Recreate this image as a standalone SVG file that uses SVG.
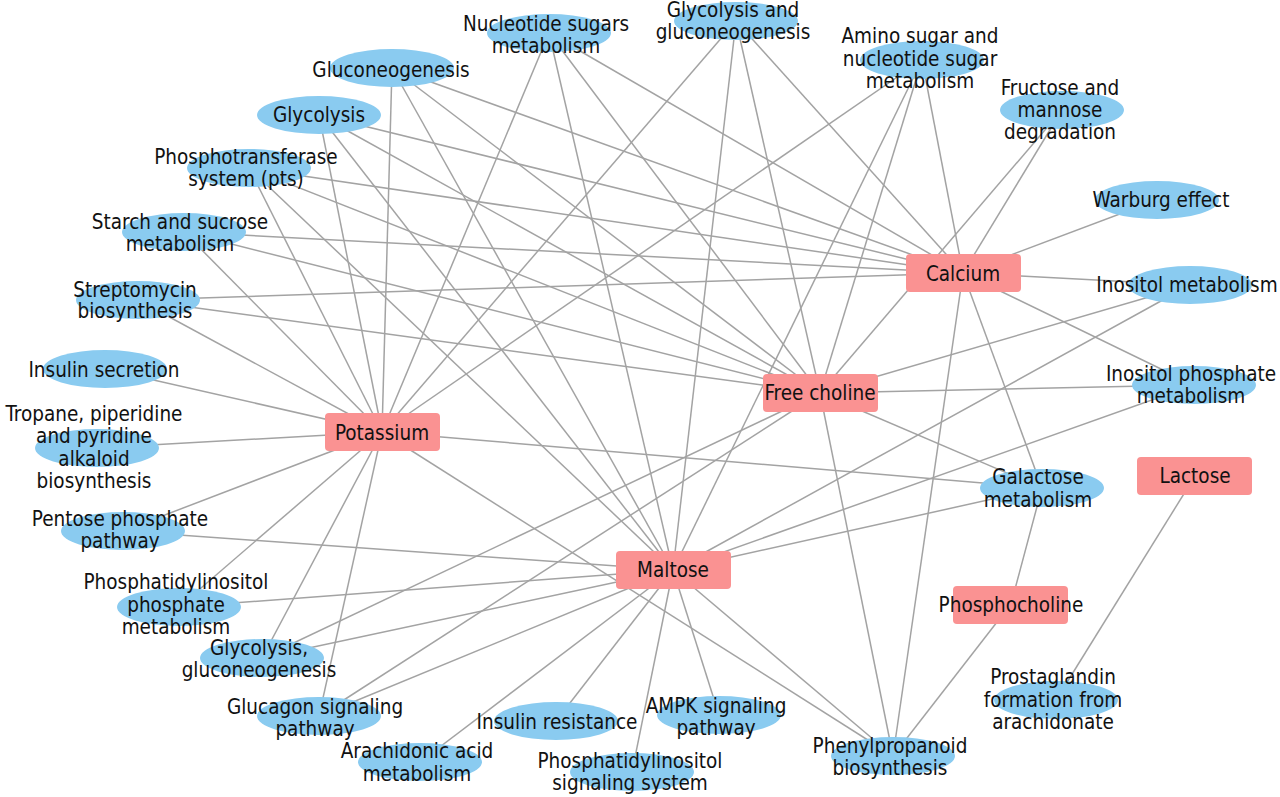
<svg xmlns="http://www.w3.org/2000/svg" width="1280" height="797" viewBox="0 0 1280 797">
<style>
.e line{stroke:#a3a3a3;stroke-width:1.5}
.leaf ellipse{fill:#8acbf0}
.hub rect{fill:#fa9292}
text{font-family:"DejaVu Sans Condensed","DejaVu Sans",sans-serif;font-size:20.5px;fill:#111;text-anchor:middle}
</style>
<rect width="1280" height="797" fill="#fff"/>
<g id="edges" class="e">
<!-- Calcium 963,273 -->
<line x1="963" y1="273" x2="922" y2="60"/>
<line x1="963" y1="273" x2="736" y2="21"/>
<line x1="963" y1="273" x2="549" y2="33"/>
<line x1="963" y1="273" x2="392" y2="68"/>
<line x1="963" y1="273" x2="319" y2="115"/>
<line x1="963" y1="273" x2="249" y2="168"/>
<line x1="963" y1="273" x2="184" y2="232"/>
<line x1="963" y1="273" x2="138" y2="300"/>
<line x1="963" y1="273" x2="893" y2="756"/>
<line x1="963" y1="273" x2="1042" y2="488"/>
<line x1="963" y1="273" x2="1190" y2="285"/>
<line x1="963" y1="273" x2="1194" y2="385"/>
<line x1="963" y1="273" x2="1157" y2="200"/>
<line x1="963" y1="273" x2="1062" y2="110"/>
<!-- Free choline 820,393 -->
<line x1="820" y1="393" x2="922" y2="60"/>
<line x1="820" y1="393" x2="736" y2="21"/>
<line x1="820" y1="393" x2="549" y2="33"/>
<line x1="820" y1="393" x2="392" y2="68"/>
<line x1="820" y1="393" x2="319" y2="115"/>
<line x1="820" y1="393" x2="249" y2="168"/>
<line x1="820" y1="393" x2="184" y2="232"/>
<line x1="820" y1="393" x2="138" y2="300"/>
<line x1="820" y1="393" x2="1062" y2="110"/>
<line x1="820" y1="393" x2="1190" y2="285"/>
<line x1="820" y1="393" x2="1194" y2="385"/>
<line x1="820" y1="393" x2="1042" y2="488"/>
<line x1="820" y1="393" x2="893" y2="756"/>
<line x1="820" y1="393" x2="262" y2="658"/>
<line x1="820" y1="393" x2="319" y2="716"/>
<!-- Maltose 673,570 -->
<line x1="673" y1="570" x2="922" y2="60"/>
<line x1="673" y1="570" x2="736" y2="21"/>
<line x1="673" y1="570" x2="549" y2="33"/>
<line x1="673" y1="570" x2="392" y2="68"/>
<line x1="673" y1="570" x2="319" y2="115"/>
<line x1="673" y1="570" x2="249" y2="168"/>
<line x1="673" y1="570" x2="123" y2="531"/>
<line x1="673" y1="570" x2="179" y2="607"/>
<line x1="673" y1="570" x2="262" y2="658"/>
<line x1="673" y1="570" x2="319" y2="716"/>
<line x1="673" y1="570" x2="420" y2="762"/>
<line x1="673" y1="570" x2="556" y2="721"/>
<line x1="673" y1="570" x2="632" y2="772"/>
<line x1="673" y1="570" x2="719" y2="715"/>
<line x1="673" y1="570" x2="893" y2="756"/>
<line x1="673" y1="570" x2="1190" y2="285"/>
<line x1="673" y1="570" x2="1194" y2="385"/>
<line x1="673" y1="570" x2="1042" y2="488"/>
<!-- Potassium 382,432 -->
<line x1="382" y1="432" x2="922" y2="60"/>
<line x1="382" y1="432" x2="736" y2="21"/>
<line x1="382" y1="432" x2="549" y2="33"/>
<line x1="382" y1="432" x2="392" y2="68"/>
<line x1="382" y1="432" x2="319" y2="115"/>
<line x1="382" y1="432" x2="249" y2="168"/>
<line x1="382" y1="432" x2="184" y2="232"/>
<line x1="382" y1="432" x2="138" y2="300"/>
<line x1="382" y1="432" x2="105" y2="369"/>
<line x1="382" y1="432" x2="97" y2="448"/>
<line x1="382" y1="432" x2="123" y2="531"/>
<line x1="382" y1="432" x2="179" y2="607"/>
<line x1="382" y1="432" x2="262" y2="658"/>
<line x1="382" y1="432" x2="319" y2="716"/>
<line x1="382" y1="432" x2="1042" y2="488"/>
<line x1="382" y1="432" x2="893" y2="756"/>
<!-- Phosphocholine, Lactose -->
<line x1="1011" y1="604" x2="1042" y2="488"/>
<line x1="1011" y1="604" x2="893" y2="756"/>
<line x1="1195" y1="476" x2="1056" y2="700"/>
</g>
<g id="n-nucleotide" class="leaf"><ellipse cx="549" cy="33" rx="62" ry="19"/><text x="546" y="31">Nucleotide sugars</text><text x="546" y="53">metabolism</text></g>
<g id="n-gg" class="leaf"><ellipse cx="736" cy="21" rx="62" ry="19"/><text x="733" y="17">Glycolysis and</text><text x="733" y="39">gluconeogenesis</text></g>
<g id="n-amino" class="leaf"><ellipse cx="922" cy="60" rx="62" ry="19"/><text x="920" y="43">Amino sugar and</text><text x="920" y="66">nucleotide sugar</text><text x="920" y="88">metabolism</text></g>
<g id="n-fructose" class="leaf"><ellipse cx="1062" cy="110" rx="62" ry="19"/><text x="1060" y="95">Fructose and</text><text x="1060" y="117">mannose</text><text x="1060" y="139">degradation</text></g>
<g id="n-warburg" class="leaf"><ellipse cx="1157" cy="200" rx="62" ry="19"/><text x="1161" y="207">Warburg effect</text></g>
<g id="n-inomet" class="leaf"><ellipse cx="1190" cy="285" rx="62" ry="19"/><text x="1187" y="292">Inositol metabolism</text></g>
<g id="n-inophos" class="leaf"><ellipse cx="1194" cy="385" rx="62" ry="19"/><text x="1191" y="381">Inositol phosphate</text><text x="1191" y="403">metabolism</text></g>
<g id="n-galactose" class="leaf"><ellipse cx="1042" cy="488" rx="62" ry="19"/><text x="1038" y="484">Galactose</text><text x="1038" y="507">metabolism</text></g>
<g id="n-prosta" class="leaf"><ellipse cx="1056" cy="700" rx="62" ry="19"/><text x="1053" y="684">Prostaglandin</text><text x="1053" y="707">formation from</text><text x="1053" y="729">arachidonate</text></g>
<g id="n-phenyl" class="leaf"><ellipse cx="893" cy="756" rx="62" ry="19"/><text x="890" y="753">Phenylpropanoid</text><text x="890" y="775">biosynthesis</text></g>
<g id="n-ampk" class="leaf"><ellipse cx="719" cy="715" rx="62" ry="19"/><text x="716" y="713">AMPK signaling</text><text x="716" y="735">pathway</text></g>
<g id="n-pis" class="leaf"><ellipse cx="632" cy="772" rx="62" ry="19"/><text x="630" y="768">Phosphatidylinositol</text><text x="630" y="790">signaling system</text></g>
<g id="n-insres" class="leaf"><ellipse cx="556" cy="721" rx="62" ry="19"/><text x="557" y="729">Insulin resistance</text></g>
<g id="n-arach" class="leaf"><ellipse cx="420" cy="762" rx="62" ry="19"/><text x="417" y="758">Arachidonic acid</text><text x="417" y="781">metabolism</text></g>
<g id="n-glucagon" class="leaf"><ellipse cx="319" cy="716" rx="62" ry="19"/><text x="315" y="714">Glucagon signaling</text><text x="315" y="736">pathway</text></g>
<g id="n-glyglu" class="leaf"><ellipse cx="262" cy="658" rx="62" ry="19"/><text x="259" y="655">Glycolysis,</text><text x="259" y="677">gluconeogenesis</text></g>
<g id="n-pip" class="leaf"><ellipse cx="179" cy="607" rx="62" ry="19"/><text x="176" y="589">Phosphatidylinositol</text><text x="176" y="612">phosphate</text><text x="176" y="634">metabolism</text></g>
<g id="n-pentose" class="leaf"><ellipse cx="123" cy="531" rx="62" ry="19"/><text x="120" y="526">Pentose phosphate</text><text x="120" y="548">pathway</text></g>
<g id="n-tropane" class="leaf"><ellipse cx="97" cy="448" rx="62" ry="19"/><text x="94" y="421">Tropane, piperidine</text><text x="94" y="443">and pyridine</text><text x="94" y="466">alkaloid</text><text x="94" y="488">biosynthesis</text></g>
<g id="n-inssec" class="leaf"><ellipse cx="105" cy="369" rx="62" ry="19"/><text x="104" y="377">Insulin secretion</text></g>
<g id="n-strep" class="leaf"><ellipse cx="138" cy="300" rx="62" ry="19"/><text x="135" y="297">Streptomycin</text><text x="135" y="318">biosynthesis</text></g>
<g id="n-starch" class="leaf"><ellipse cx="184" cy="232" rx="62" ry="19"/><text x="180" y="229">Starch and sucrose</text><text x="180" y="251">metabolism</text></g>
<g id="n-pts" class="leaf"><ellipse cx="249" cy="168" rx="62" ry="19"/><text x="246" y="164">Phosphotransferase</text><text x="246" y="186">system (pts)</text></g>
<g id="n-glycolysis" class="leaf"><ellipse cx="319" cy="115" rx="62" ry="19"/><text x="319" y="122">Glycolysis</text></g>
<g id="n-gluconeo" class="leaf"><ellipse cx="392" cy="68" rx="62" ry="19"/><text x="391" y="77">Gluconeogenesis</text></g>
<g id="n-calcium" class="hub"><rect x="906" y="254" width="115" height="38" rx="4"/><text x="963" y="281">Calcium</text></g>
<g id="n-freecholine" class="hub"><rect x="763" y="374" width="115" height="38" rx="4"/><text x="820" y="400">Free choline</text></g>
<g id="n-potassium" class="hub"><rect x="325" y="413" width="115" height="38" rx="4"/><text x="382" y="440">Potassium</text></g>
<g id="n-maltose" class="hub"><rect x="616" y="551" width="115" height="38" rx="4"/><text x="673" y="577">Maltose</text></g>
<g id="n-lactose" class="hub"><rect x="1137" y="457" width="115" height="38" rx="4"/><text x="1195" y="483">Lactose</text></g>
<g id="n-phosphocholine" class="hub"><rect x="953" y="586" width="115" height="38" rx="4"/><text x="1011" y="612">Phosphocholine</text></g>
</svg>
